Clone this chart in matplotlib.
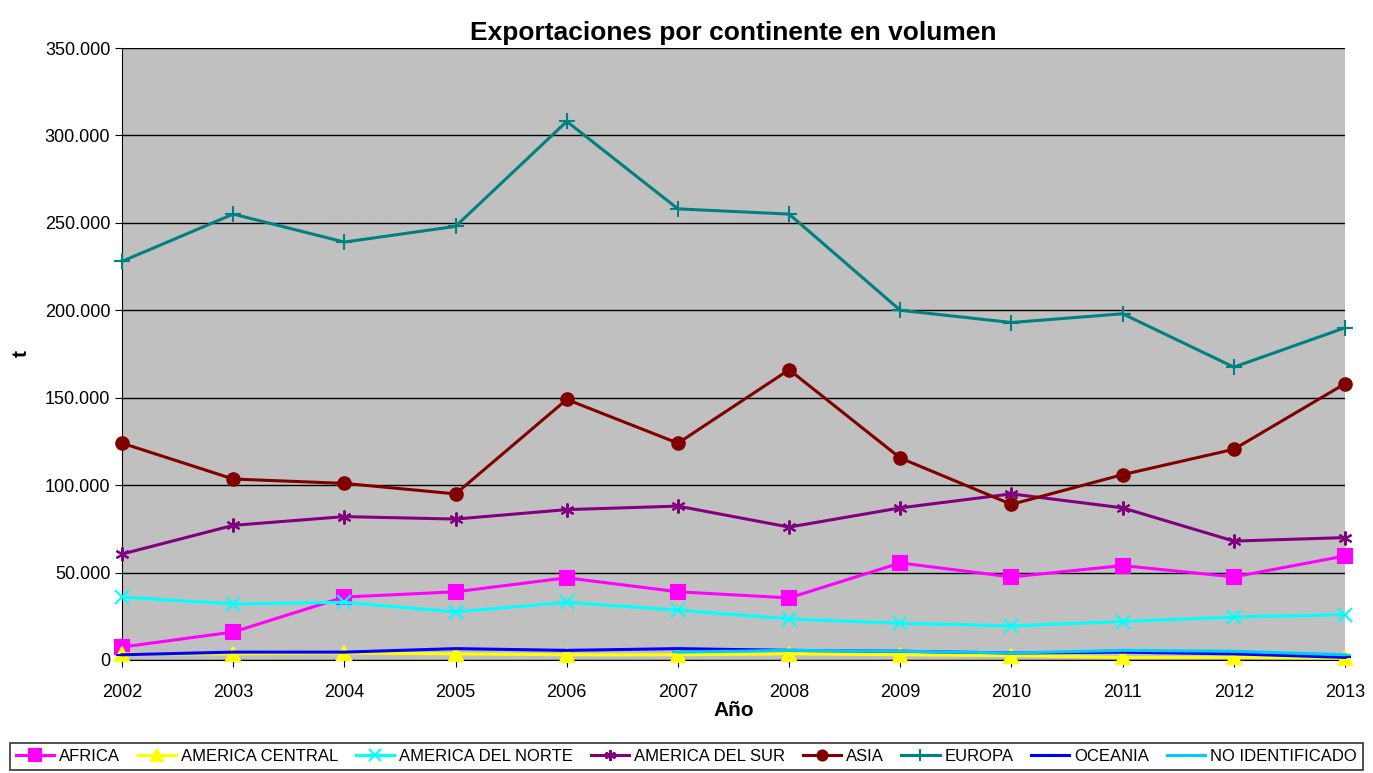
import numpy as np
import matplotlib
matplotlib.use('Agg')
import matplotlib.pyplot as plt
from matplotlib.ticker import FuncFormatter, MultipleLocator

plt.rcParams['font.family'] = ['Liberation Sans', 'DejaVu Sans']

years = list(range(2002, 2014))
nan = np.nan

# miles de toneladas
africa = [7.4, 16, 36, 39, 47, 39, 35.5, 55.5, 47.5, 54, 47.5, 59.5]
am_central = [3.5, 3.5, 4, 3.5, 3, 3, 3.5, 3, 2.5, 1.5, 1.5, 1]
am_norte = [36, 32, 33, 27.5, 33, 28.5, 23.5, 21, 19.5, 22, 24.5, 26]
am_sur = [60.6, 77, 82, 80.6, 86, 88, 76, 87, 95, 87, 68, 70]
asia = [124, 103.5, 101, 95, 149, 124, 166, 115.5, 89, 106, 120.5, 158]
europa = [228, 255, 239, 248, 308, 258, 255, 200, 193, 198, 167.5, 190]
oceania = [3, 4.5, 4.5, 6.5, 5.5, 6.5, 5.5, 5, 4, 4.5, 3.5, 1.5]
no_ident = [nan, nan, nan, nan, nan, 4.5, 5.5, 5, 4, 5.5, 5, 3]

series = [
    ("AFRICA", africa, "#FF00FF", "s", 10),
    ("AMERICA CENTRAL", am_central, "#FFFF00", "^", 10),
    ("AMERICA DEL NORTE", am_norte, "#00FFFF", "x", 10),
    ("AMERICA DEL SUR", am_sur, "#800080", (6, 2, 0), 10),
    ("ASIA", asia, "#800000", "o", 9),
    ("EUROPA", europa, "#008080", "+", 11),
    ("OCEANIA", oceania, "#0000FF", "_", 8),
    ("NO IDENTIFICADO", no_ident, "#00CCFF", "_", 8),
]

fig = plt.figure(figsize=(13.73, 7.73), dpi=100)
ax = fig.add_axes([0.0889, 0.1462, 0.8907, 0.7917])
ax.set_facecolor("#C0C0C0")

for name, vals, col, mk, ms in series:
    y = np.array(vals, dtype=float) * 1000
    ax.plot(years, y, color=col, lw=2.2, marker=mk, markersize=ms,
            markeredgewidth=1.5, label=name, clip_on=False, zorder=3)

ax.set_xlim(2002, 2013)
ax.set_ylim(0, 350000)
ax.xaxis.set_major_locator(MultipleLocator(1))
ax.yaxis.set_major_locator(MultipleLocator(50000))
ax.yaxis.set_major_formatter(FuncFormatter(lambda v, p: f"{int(v):,}".replace(",", ".")))
ax.grid(axis='y', color='black', lw=1)
ax.set_axisbelow(True)
for s in ['top', 'right']:
    ax.spines[s].set_visible(False)
ax.tick_params(labelsize=13, length=5, direction='out')
ax.tick_params(axis='x', pad=12)

ax.set_title("Exportaciones por continente en volumen", fontsize=19, fontweight='bold', pad=6)
ax.set_xlabel("Año", fontsize=15, fontweight='bold', labelpad=0)
ax.set_ylabel("t", fontsize=15, fontweight='bold')
ax.yaxis.set_label_coords(-0.075, 0.5)

leg = fig.legend(loc='lower center', bbox_to_anchor=(0.5, 0.0), ncol=8, fontsize=12,
                 frameon=True, fancybox=False, edgecolor='black', handlelength=2.3,
                 columnspacing=1.05, handletextpad=0.3, borderpad=0.35, borderaxespad=0.2,
                 markerscale=0.8)
leg.get_frame().set_linewidth(1.2)

fig.savefig("out.png", dpi=100)
